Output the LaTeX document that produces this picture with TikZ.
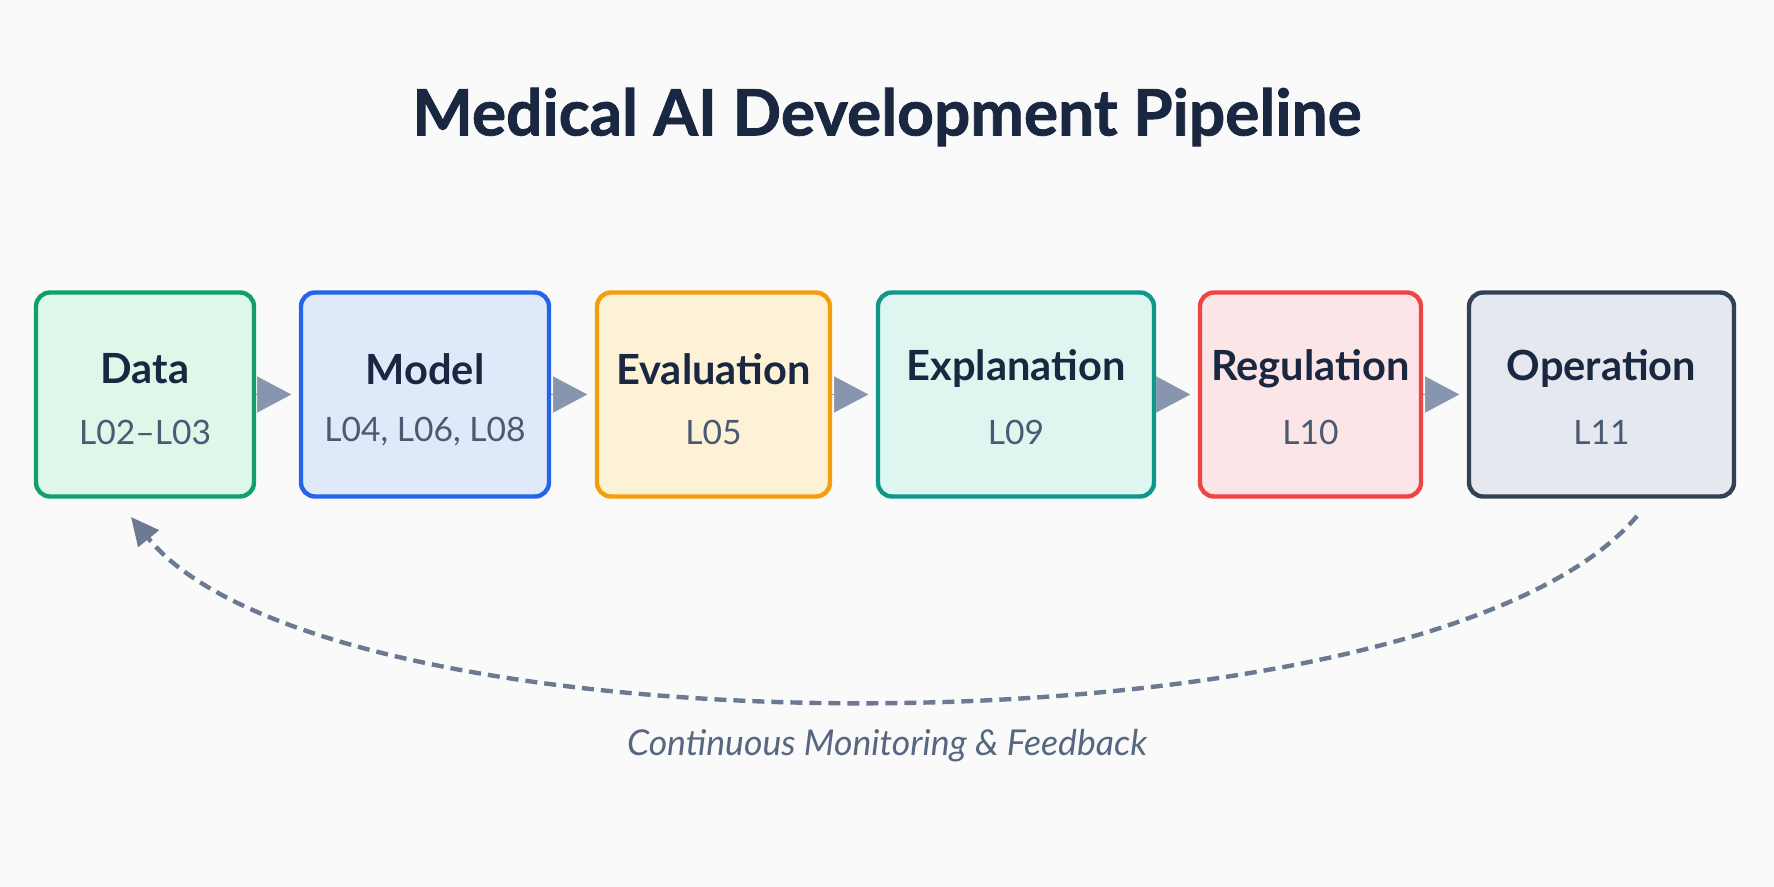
\documentclass[tikz,border=0pt]{standalone}
\usepackage{fontspec}
\setmainfont{Lato}
\newfontfamily\titlefont{Lato}[BoldFeatures={FakeBold=1.2}]
\usetikzlibrary{arrows.meta}
\definecolor{bgc}{HTML}{FAFAFB}
\definecolor{titlec}{HTML}{1A2740}
\definecolor{subc}{HTML}{4A5A72}
\definecolor{arrc}{HTML}{8796AE}
\definecolor{fbc}{HTML}{6B7A92}
\definecolor{fbtext}{HTML}{56677F}
\definecolor{gB}{HTML}{12A06A}\definecolor{gF}{HTML}{DDF7E9}
\definecolor{bB}{HTML}{2563EB}\definecolor{bF}{HTML}{DFE9FA}
\definecolor{oB}{HTML}{F59E0B}\definecolor{oF}{HTML}{FDF2D6}
\definecolor{tB}{HTML}{0F978A}\definecolor{tF}{HTML}{DDF6F0}
\definecolor{rB}{HTML}{EF4444}\definecolor{rF}{HTML}{FCE5E6}
\definecolor{sB}{HTML}{334155}\definecolor{sF}{HTML}{E5E8EF}
\tikzset{
  stagebox/.style={draw, rounded corners=7pt, line width=2.2pt, minimum height=102pt, inner sep=0pt},
  stitle/.style={font=\bfseries\fontsize{20.8}{25}\selectfont, text=titlec},
  ssub/.style={font=\fontsize{16.8}{20}\selectfont, text=subc},
  flowarrow/.style={draw=arrc, line width=0.2pt, -{Triangle[length=17pt, width=18pt]}, arrc, shorten >=3.8pt},
  fbarrow/.style={draw=fbc, line width=2.2pt, dash pattern=on 6pt off 3.5pt, -{Triangle[length=14pt, width=13pt]}},
}
\begin{document}
\begin{tikzpicture}[x=0.5pt, y=-0.5pt]
\fill[bgc] (0,0) rectangle (1774,887);
\useasboundingbox (0,0) rectangle (1774,887);

\node[font=\titlefont\bfseries\fontsize{32}{38}\selectfont, text=titlec] (title) at (887,117) {Medical AI Development Pipeline};

\node[stagebox, draw=gB, fill=gF, minimum width=109pt] (data) at (145,394.5) {};
\node[stagebox, draw=bB, fill=bF, minimum width=124pt] (model) at (425,394.5) {};
\node[stagebox, draw=oB, fill=oF, minimum width=116.5pt] (eval) at (713.5,394.5) {};
\node[stagebox, draw=tB, fill=tF, minimum width=138pt] (expl) at (1016,394.5) {};
\node[stagebox, draw=rB, fill=rF, minimum width=110.5pt] (reg) at (1310.5,394.5) {};
\node[stagebox, draw=sB, fill=sF, minimum width=132.5pt] (oper) at (1601.5,394.5) {};

\node[stitle] (dataT) at (145,369) {Data};
\node[ssub] (dataS) at (145,432) {L02–L03};
\node[stitle] (modelT) at (425,369) {Model};
\node[ssub] (modelS) at (425,432) {L04, L06, L08};
\node[stitle] (evalT) at (713.5,369) {Evaluation};
\node[ssub] (evalS) at (713.5,432) {L05};
\node[stitle] (explT) at (1016,369) {Explanation};
\node[ssub] (explS) at (1016,432) {L09};
\node[stitle] (regT) at (1310.5,369) {Regulation};
\node[ssub] (regS) at (1310.5,432) {L10};
\node[stitle] (operT) at (1601.5,369) {Operation};
\node[ssub] (operS) at (1601.5,432) {L11};

\draw[flowarrow] (data.east) -- (model.west);
\draw[flowarrow] (model.east) -- (eval.west);
\draw[flowarrow] (eval.east) -- (expl.west);
\draw[flowarrow] (expl.east) -- (reg.west);
\draw[flowarrow] (reg.east) -- (oper.west);

\coordinate (fbS) at (1637,516);
\coordinate (fbE) at (131,517);
\draw[fbarrow] (fbS) .. controls (1430,762) and (330,762) .. (fbE);

\node[font=\itshape\fontsize{17.8}{21}\selectfont, text=fbtext] (fbL) at (887,746) {Continuous Monitoring \& Feedback};
\end{tikzpicture}
\end{document}
